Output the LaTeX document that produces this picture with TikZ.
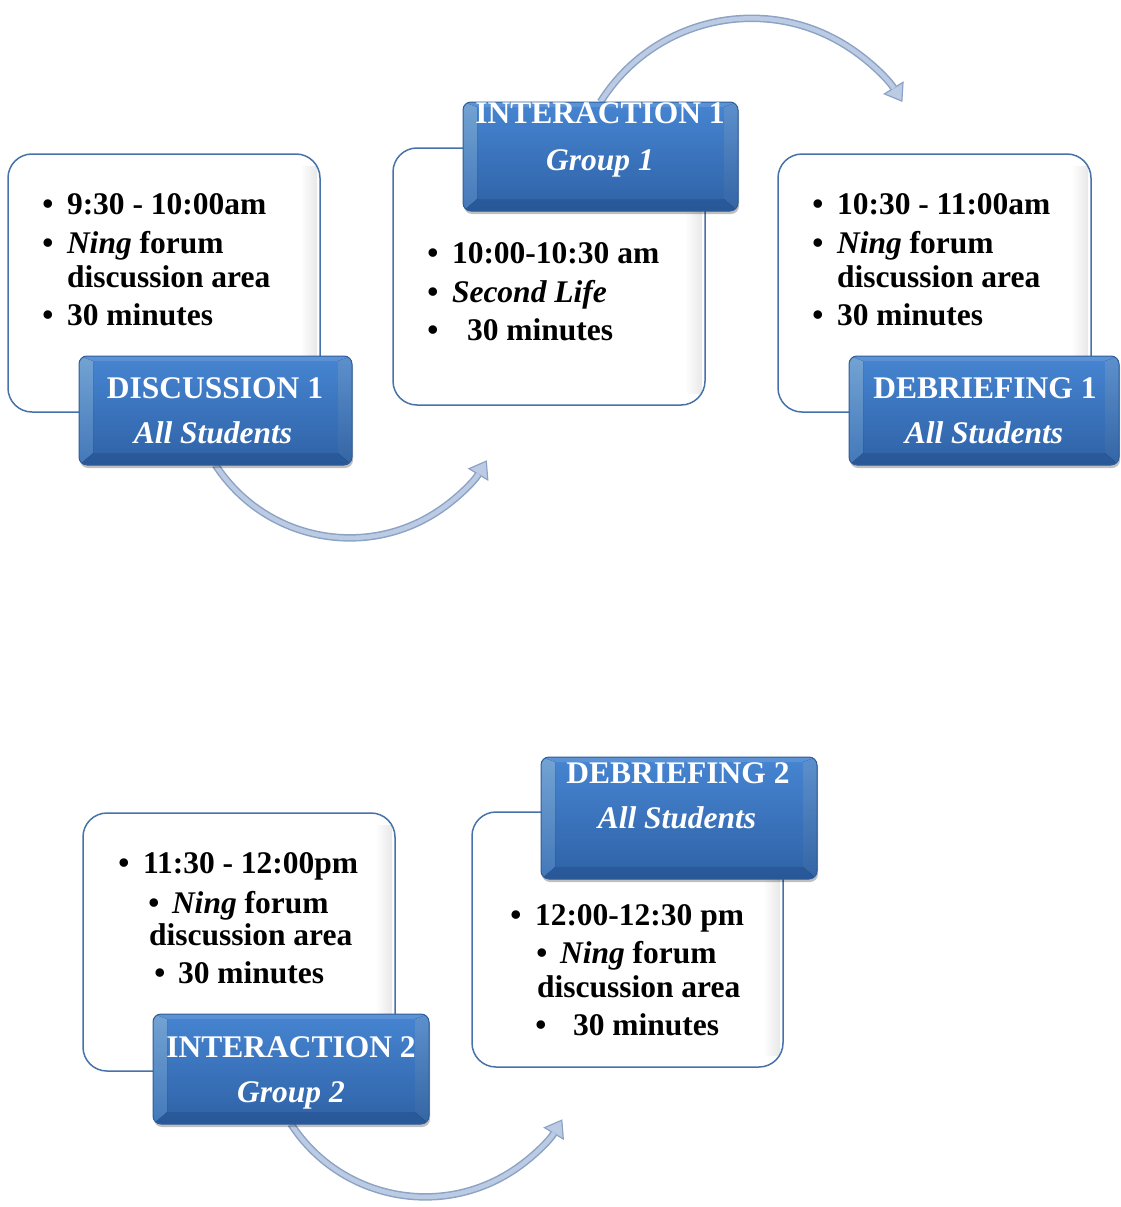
\documentclass[tikz,border=0pt]{standalone}
\usepackage{fontspec}
\setmainfont{Liberation Serif}
\usetikzlibrary{arrows.meta,calc,shadows,backgrounds}

\definecolor{wborder}{HTML}{4672AA}
\definecolor{bluetop}{HTML}{4685D2}
\definecolor{bluebot}{HTML}{2F62A6}
\definecolor{blueedge}{HTML}{2E5C99}
\definecolor{bevelhi}{HTML}{86BDF3}
\definecolor{bevelmid}{HTML}{4E8BD6}
\definecolor{bevelrhi}{HTML}{6CA7EC}
\definecolor{bevelrlo}{HTML}{3C74BD}
\definecolor{beveldark}{HTML}{244F8C}
\definecolor{arrowfill}{HTML}{BBCBE3}
\definecolor{arrowedge}{HTML}{8DA3C5}

% bevel of the blue title plates, drawn inside the plate outline
\newcommand\platebevel{%
  \coordinate (pnw) at (path picture bounding box.north west);
  \coordinate (pse) at (path picture bounding box.south east);
  \coordinate (pne) at (pse |- pnw);
  \coordinate (psw) at (pnw |- pse);
  \fill[sharp corners, white, opacity=.12]
    (pnw) -- ($(pnw)+(14,5)$) -- ($(pne)+(-14,5)$) -- (pne) -- cycle;
  \fill[sharp corners, beveldark, opacity=.5]
    (psw) -- ($(psw)+(14,-12)$) -- ($(pse)+(-14,-12)$) -- (pse) -- cycle;
  \fill[sharp corners, top color=bevelhi, bottom color=bevelmid, opacity=.85]
    (pnw) -- ($(pnw)+(14,5)$) -- ($(psw)+(14,-12)$) -- (psw) -- cycle;
  \fill[sharp corners, top color=bevelrhi, bottom color=bevelrlo, opacity=.85]
    (pne) -- ($(pne)+(-14,5)$) -- ($(pse)+(-14,-12)$) -- (pse) -- cycle;
}
% soft inner shade along the right side of the white cards
\newcommand\cardshade{%
  \coordinate (cne) at (path picture bounding box.north east);
  \coordinate (cse) at (path picture bounding box.south east);
  \fill[sharp corners, left color=white, right color=black!9]
    ($(cne)+(-20,12)$) rectangle ($(cse)+(-3,-12)$);
}

\tikzset{
  every node/.style={inner sep=0pt, outer sep=0pt},
  card/.style={draw=wborder, line width=1.5pt, fill=white, rounded corners=24pt,
    path picture={\cardshade}},
  plate/.style={draw=blueedge, line width=1pt, rounded corners=8pt,
    top color=bluetop, bottom color=bluebot,
    drop shadow={shadow xshift=1pt, shadow yshift=-3pt, opacity=.25, fill=black},
    path picture={\platebevel}},
  item/.style={font=\fontsize{31.5}{36}\selectfont\bfseries, anchor=base west, text=black},
  dot/.style={font=\fontsize{31.5}{36}\selectfont\bfseries, anchor=base, text=black},
  ptitle/.style={font=\fontsize{31.5}{36}\selectfont\bfseries, anchor=base, text=white},
  psub/.style={font=\fontsize{31.5}{36}\selectfont\bfseries\itshape, anchor=base, text=white},
  flowedge/.style={line width=7.5pt, draw=arrowedge,
    -{Triangle[length=17pt,width=24pt,line width=1.2pt,fill=arrowfill]}},
  flowcore/.style={line width=4.5pt, draw=arrowfill, shorten >=16pt},
}

\begin{document}
\begin{tikzpicture}[x=1pt,y=-1pt]
\useasboundingbox (0,0) rectangle (1120,1207);

% white cards
\node[card, minimum width=312pt, minimum height=258pt] (W1) at (164,283) {};
\node[card, minimum width=312pt, minimum height=257pt] (W2) at (549,276.5) {};
\node[card, minimum width=313pt, minimum height=258pt] (W3) at (934.5,283) {};
\node[card, minimum width=312pt, minimum height=258pt] (W4) at (239,942) {};
\node[card, minimum width=311pt, minimum height=255pt] (W5) at (627.5,939.5) {};

% blue title plates
\node[plate, minimum width=273pt, minimum height=109pt] (B1) at (215.5,410.5) {};
\node[plate, minimum width=275pt, minimum height=109pt] (B2) at (600.5,156.5) {};
\node[plate, minimum width=270pt, minimum height=109pt] (B3) at (984,410.5) {};
\node[plate, minimum width=276pt, minimum height=110pt] (B4) at (291,1069) {};
\node[plate, minimum width=276pt, minimum height=122pt] (B5) at (679,818) {};

% curved arrows between the stages, behind the plates
\begin{scope}[on background layer]
  \draw[flowedge] (B1.south) arc[start angle=147, end angle=31, radius=160] coordinate (a1);
  \draw[flowcore] (B1.south) arc[start angle=147, end angle=31, radius=160];
  \draw[flowedge] (B2.north) arc[start angle=212, end angle=328, radius=178] coordinate (a2);
  \draw[flowcore] (B2.north) arc[start angle=212, end angle=328, radius=178];
  \draw[flowedge] (B4.south) arc[start angle=147, end angle=31, radius=160] coordinate (a3);
  \draw[flowcore] (B4.south) arc[start angle=147, end angle=31, radius=160];
\end{scope}

% plate captions
\node[ptitle] (p1a) at (215,398) {DISCUSSION 1};
\node[psub]   (p1b) at (213,443) {All Students};
\node[ptitle] (p2a) at (600,123) {INTERACTION 1};
\node[psub]   (p2b) at (600,170) {Group 1};
\node[ptitle] (p3a) at (985,398) {DEBRIEFING 1};
\node[psub]   (p3b) at (984,443) {All Students};
\node[ptitle] (p4a) at (291,1057) {INTERACTION 2};
\node[psub]   (p4b) at (291,1102) {Group 2};
\node[ptitle] (p5a) at (678,783) {DEBRIEFING 2};
\node[psub]   (p5b) at (677,828) {All Students};

% card 1
\node[dot]  (d1a) at (48,214) {\textbullet};
\node[item] (t1a) at (67,214) {9:30 - 10:00am};
\node[dot]  (d1b) at (48,253) {\textbullet};
\node[item] (t1b) at (67,253) {\textit{Ning} forum};
\node[item] (t1c) at (67,287) {discussion area};
\node[dot]  (d1d) at (48,325) {\textbullet};
\node[item] (t1d) at (67,325) {30 minutes};

% card 2
\node[dot]  (d2a) at (433,263) {\textbullet};
\node[item] (t2a) at (452,263) {10:00-10:30 am};
\node[dot]  (d2b) at (433,302) {\textbullet};
\node[item] (t2b) at (452,302) {\textit{Second Life}};
\node[dot]  (d2c) at (433,340) {\textbullet};
\node[item] (t2c) at (467,340) {30 minutes};

% card 3
\node[dot]  (d3a) at (818,214) {\textbullet};
\node[item] (t3a) at (837,214) {10:30 - 11:00am};
\node[dot]  (d3b) at (818,253) {\textbullet};
\node[item] (t3b) at (837,253) {\textit{Ning} forum};
\node[item] (t3c) at (837,287) {discussion area};
\node[dot]  (d3d) at (818,325) {\textbullet};
\node[item] (t3d) at (837,325) {30 minutes};

% card 4
\node[dot]  (d4a) at (124,873) {\textbullet};
\node[item] (t4a) at (143,873) {11:30 - 12:00pm};
\node[dot]  (d4b) at (154,913) {\textbullet};
\node[item] (t4b) at (172,913) {\textit{Ning} forum};
\node[item] (t4c) at (149,945) {discussion area};
\node[dot]  (d4d) at (160,983) {\textbullet};
\node[item] (t4d) at (178,983) {30 minutes};

% card 5
\node[dot]  (d5a) at (516,925) {\textbullet};
\node[item] (t5a) at (535,925) {12:00-12:30 pm};
\node[dot]  (d5b) at (542,963) {\textbullet};
\node[item] (t5b) at (560,963) {\textit{Ning} forum};
\node[item] (t5c) at (537,997) {discussion area};
\node[dot]  (d5d) at (541,1035) {\textbullet};
\node[item] (t5d) at (573,1035) {30 minutes};
\end{tikzpicture}
\end{document}
